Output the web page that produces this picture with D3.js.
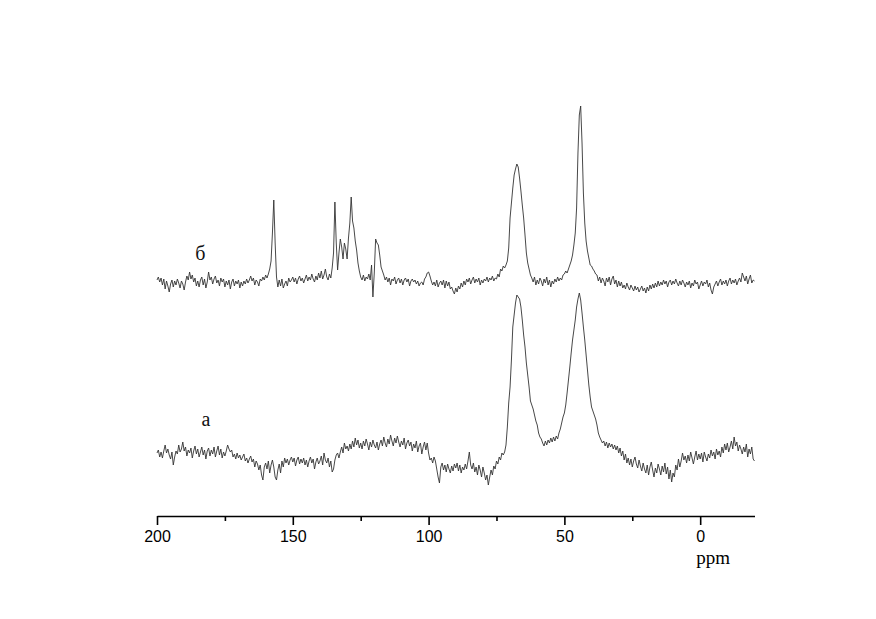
<!DOCTYPE html>
<html>
<head>
<meta charset="utf-8">
<script src="https://cdn.jsdelivr.net/npm/d3@7"></script>
<style>
  html, body { margin: 0; padding: 0; background: #fff; }
  svg { display: block; }
</style>
</head>
<body>
<svg id="chart" width="876" height="619"></svg>
<script>
// ---- Data (chemical shift in ppm, 0.5 ppm step from 200 to -20) ----
const ppmStart = 200;
const ppmStep = 0.5;
const ppmEnd = -20;

// Series "б" (upper trace), intensity in arbitrary units relative to its baseline
const seriesB = [
  3, 6, 1, 5, -2, 4, -6, 2, -3, -9,
  -1, 3, -4, 2, -2, 4, 0, -5, 2, -1,
  -7, 1, 7, 3, 11, 4, 8, 1, 5, -3,
  2, -4, 3, 6, -2, 4, -5, 1, 11, 3,
  6, -1, 4, 7, 0, 3, -3, 5, 1, 4,
  -4, 2, -2, 3, -6, 1, 4, -3, 2, -1,
  3, -5, 1, -3, 2, -1, 4, 0, 3, 7,
  2, 5, -2, 3, 1, -3, 4, 2, 6, 3,
  8, 5, 9, 14, 22, 50, 83, 40, 6, -4,
  3, -3, 4, -5, -1, 2, -3, 5, 1, 3,
  6, 1, 5, -1, 4, 7, 2, 5, 0, 4,
  8, 2, 6, 3, 9, 4, 1, 7, 3, 10,
  5, 12, 4, 8, 14, 6, 3, 9, 5, 15,
  30, 81, 40, 13, 30, 44, 36, 24, 40, 34,
  24, 45, 60, 86, 62, 55, 42, 33, 20, 12,
  6, 3, 8, 2, 6, 4, 9, 3, 18, -14,
  10, 44, 40, 38, 28, 16, 12, 8, 3, 6,
  1, 5, -2, 4, 2, 6, -1, 3, 5, 0,
  4, -2, 3, 5, 1, 4, -3, 2, 4, 1,
  3, -1, 2, -3, 0, 1, -2, 4, 6, 10,
  11, 7, 2, -2, 1, -3, 3, -4, 0, 2,
  -2, 3, -5, 2, -3, 1, -6, -4, -8, -11,
  -5, -9, -3, -6, 0, -4, 2, -2, 4, 1,
  5, -1, 3, 6, 0, 4, 1, 5, -2, 3,
  0, 4, 2, 6, 1, 5, 3, 7, 2, 5,
  4, 9, 6, 14, 12, 17, 15, 18, 22, 35,
  65, 80, 95, 108, 114, 119, 116, 105, 92, 78,
  65, 48, 30, 20, 14, 8, 5, 1, 6, -2,
  3, -1, 5, 2, -3, 4, 0, 6, -2, 3,
  -4, 2, -1, 4, 1, 6, 2, 5, 3, 8,
  9, 12, 10, 14, 18, 22, 28, 38, 50, 75,
  130, 168, 177, 140, 90, 60, 42, 32, 25, 18,
  17, 14, 12, 9, 8, 2, 6, 0, 5, 2,
  -3, 5, 1, 6, -2, 4, 7, -1, 3, -4,
  2, -3, 1, -5, -2, -6, 0, -4, -7, -2,
  -5, -8, -3, -7, -4, -9, -6, -3, -8, -5,
  -10, -4, -8, -2, -6, -1, -5, 0, -4, 2,
  -3, 1, -2, 3, -1, 2, -4, 1, 3, -2,
  2, -1, 4, 0, -3, 2, -2, 3, 0, -4,
  1, -2, 2, -5, 0, -3, 3, -1, 1, -6,
  -2, 2, -3, 1, -1, 3, -4, 0, -7, -11,
  -4, -1, 2, -3, 1, 4, -2, 2, -1, 3,
  -3, 2, 5, -1, 3, 0, 4, -2, 2, 5,
  1, 10, 6, 2, 7, -1, 4, 8, 0, 3,
  2
];

// Series "а" (lower trace)
const seriesA = [
  2, 5, -2, 3, -3, 4, 10, 2, 6, 0,
  -4, 3, -10, -2, 4, 1, 10, 3, 6, 13,
  4, 8, -1, 5, 2, 7, -3, 4, 9, 1,
  6, -2, 3, 8, 0, 5, -4, 4, 7, -1,
  5, 1, 8, -2, 4, 9, 0, 6, -3, 3,
  -1, 4, 10, 6, 3, 5, -2, 1, -4, 2,
  -3, 0, -5, -2, 1, -6, -3, -8, -4, -1,
  -7, -4, -12, -6, -9, -15, -10, -20, -25, -12,
  -8, -14, -6, -18, -10, -5, -12, -22, -25, -15,
  -9, -18, -6, -12, -3, -8, -4, -10, -5, -2,
  -7, -3, -11, -5, -2, -9, -4, -8, -3, -10,
  -5, -12, -6, -2, -8, -4, -14, -7, -3, -9,
  -6, -1, -10, 2, -5, -8, -3, -12, -6, -17,
  -14, -5, 0, 2, -3, 3, 8, 2, 12, 6,
  9, 4, 11, 6, 14, 8, 17, 10, 15, 7,
  12, 6, 14, 9, 16, 11, 5, 13, 8, 15,
  10, 7, 13, 5, 11, 15, 9, 18, 12, 8,
  16, 11, 20, 14, 9, 17, 12, 19, 13, 8,
  14, 10, 17, 6, 12, 15, 9, 13, 4, 11,
  7, 14, 3, 9, 12, 1, 8, 13, 5, 12,
  2, -5, -3, -8, -2, -6, -14, -22, -28, -12,
  -8, -15, -10, -17, -9, -14, -18, -11, -16, -9,
  -13, -8, -16, -10, -18, -12, -15, -9, -14, -6,
  3, -10, -14, -8, -17, -12, -20, -10, -15, -22,
  -12, -18, -25, -20, -30, -22, -15, -20, -11, -14,
  -6, -9, -2, -5, 2, 0, 3, 10, 28, 52,
  68, 95, 128, 140, 152, 160, 158, 156, 148, 135,
  120, 108, 92, 80, 68, 54, 50, 46, 40, 34,
  30, 22, 18, 16, 12, 9, 14, 10, 15, 12,
  17, 13, 18, 14, 19, 16, 22, 26, 32, 38,
  42, 50, 62, 75, 88, 102, 115, 125, 135, 148,
  156, 162, 155, 142, 128, 115, 100, 85, 70, 58,
  48, 44, 40, 36, 30, 22, 18, 15, 12, 14,
  9, 13, 7, 12, 8, 11, 6, 10, 5, 9,
  2, 7, -1, 4, -5, 1, -8, -3, -10, -4,
  -12, -6, -2, -9, -13, -5, -11, -16, -8, -14,
  -18, -10, -20, -12, -7, -15, -22, -13, -18, -9,
  -14, -20, -11, -17, -8, -19, -12, -24, -15, -27,
  -18, -22, -10, -15, -4, -12, -6, 2, -5, -1,
  -8, 0, -6, 3, -3, -9, -2, 4, -5, 1,
  -4, 2, -7, 3, -2, -6, 1, -3, 5, -1,
  3, -4, 6, 0, 4, -2, 8, 2, 11, 5,
  12, 3, 8, 14, 6, 18, 9, 13, 4, 10,
  6, 1, 8, 3, 11, -2, 6, 1, 8, -4,
  -6
];

const seriesLabels = ["а", "б"];
const seriesOffsets = [0, 172];          // vertical stacking offset (intensity units)
const majorTicks = [200, 150, 100, 50, 0];
const minorTicks = [175, 125, 75, 25];
const axisTitle = "ppm";

// ---- Drawing ----
const svg = d3.select("#chart");

const x = d3.scaleLinear().domain([ppmStart, ppmEnd]).range([157, 754.5]);
const y = d3.scaleLinear().domain([0, 390]).range([455, 65]);

const toPoints = (vals, off) => vals.map((v, i) => ({ ppm: ppmStart - i * ppmStep, v: v + off }));

const line = d3.line()
  .x(d => x(d.ppm))
  .y(d => y(d.v));

const allSeries = [seriesA, seriesB];
allSeries.forEach((vals, k) => {
  svg.append("path")
    .datum(toPoints(vals, seriesOffsets[k]))
    .attr("fill", "none")
    .attr("stroke", "#333")
    .attr("stroke-width", 0.9)
    .attr("stroke-linejoin", "round")
    .attr("d", line);
});

// Series labels
const labelPos = [{ ppm: 182, v: 29 }, { ppm: 184, v: 195 }];
seriesLabels.forEach((t, k) => {
  svg.append("text")
    .attr("x", x(labelPos[k].ppm))
    .attr("y", y(labelPos[k].v))
    .attr("font-family", "'Liberation Serif', 'Times New Roman', serif")
    .attr("font-size", 20)
    .attr("fill", "#111")
    .attr("text-anchor", "middle")
    .text(t);
});

// X axis
const axisY = 516;
const gMajor = svg.append("g")
  .attr("transform", `translate(0,${axisY})`)
  .call(d3.axisBottom(x).tickValues(majorTicks).tickSize(9).tickSizeOuter(0).tickPadding(6).tickFormat(d3.format("d")));
gMajor.select(".domain").attr("stroke", "#000").attr("stroke-width", 1.6);
gMajor.selectAll(".tick line").attr("stroke", "#000").attr("stroke-width", 1.6);
gMajor.selectAll(".tick text")
  .attr("font-family", "'Liberation Sans', Arial, sans-serif")
  .attr("font-size", 16)
  .attr("fill", "#000");

const gMinor = svg.append("g")
  .attr("transform", `translate(0,${axisY})`)
  .call(d3.axisBottom(x).tickValues(minorTicks).tickSize(5).tickSizeOuter(0).tickFormat(""));
gMinor.select(".domain").remove();
gMinor.selectAll(".tick line").attr("stroke", "#000").attr("stroke-width", 1.6);

svg.append("text")
  .attr("x", x(0) - 4)
  .attr("y", 564)
  .attr("font-family", "'Liberation Serif', 'Times New Roman', serif")
  .attr("font-size", 19)
  .attr("fill", "#000")
  .text(axisTitle);
</script>
</body>
</html>
